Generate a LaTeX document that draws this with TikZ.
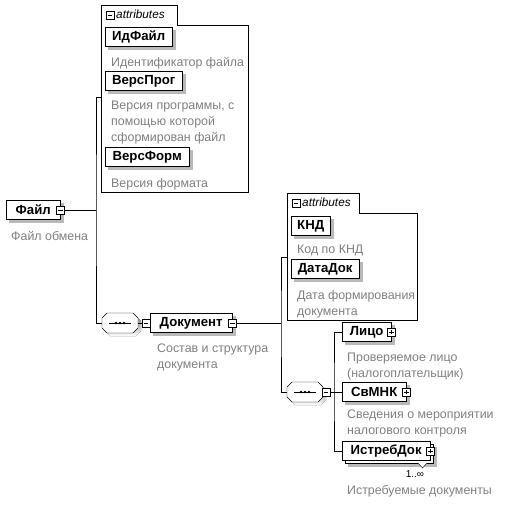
\documentclass[tikz,border=0pt]{standalone}
\usepackage{fontspec}
\setmainfont{Liberation Sans}
\usetikzlibrary{shadows}
\definecolor{shade}{RGB}{185,185,185}
\newcommand{\seqbox}[1]{%
    \begin{scope}[shift={(#1.center)}]
        \fill[shade] (-15,-2) -- (-10,-7) -- (16,-7) -- (21,-2) -- (21,8) -- (16,13) -- (-10,13) -- (-15,8) -- cycle;
        \draw[fill=white] (-18,-5) -- (-13,-10) -- (13,-10) -- (18,-5) -- (18,5) -- (13,10) -- (-13,10) -- (-18,5) -- cycle;
        \draw (-11,0) -- (11,0);
        \fill (-4,0) circle (1.4pt) (0,0) circle (1.4pt) (4,0) circle (1.4pt);
    \end{scope}}
\begin{document}
\begin{tikzpicture}[x=1pt, y=-1pt,
    elem/.style={draw, fill=white, font=\bfseries\fontsize{13.2}{15}\selectfont, minimum height=19pt, inner sep=0pt, anchor=west, copy shadow={shadow xshift=3pt, shadow yshift=-3pt, fill=shade, draw=shade}},
    stack/.style={elem, copy shadow={shadow xshift=6pt, shadow yshift=-6pt, fill=shade, draw=shade}, copy shadow={shadow xshift=3pt, shadow yshift=-3pt, fill=white, draw=black}},
    desc/.style={text=black!50, font=\fontsize{12.4}{16}\selectfont, align=left, anchor=north west, inner sep=0pt},
    tab/.style={font=\itshape\fontsize{11.8}{13}\selectfont, anchor=west, inner sep=0pt},
    minus/.style={draw, fill=white, minimum size=8pt, inner sep=0pt, path picture={\draw ([xshift=1.8pt]path picture bounding box.west) -- ([xshift=-1.8pt]path picture bounding box.east);}},
    plus/.style={draw, fill=white, minimum size=8pt, inner sep=0pt, path picture={\draw ([xshift=1.8pt]path picture bounding box.west) -- ([xshift=-1.8pt]path picture bounding box.east); \draw ([yshift=1.8pt]path picture bounding box.south) -- ([yshift=-1.8pt]path picture bounding box.north);}},
    seq/.style={minimum width=36pt, minimum height=20pt, inner sep=0pt}]
    \path[fill=white, use as bounding box] (0,0) rectangle (515,507);

    \draw[fill=white] (101,5) -- (177,5) -- (177,25) -- (248,25) -- (248,192) -- (101,192) -- cycle;
    \node[minus] (attr1m) at (110,15) {};
    \node[tab] (attr1t) at (116,14) {attributes};
    \node[elem, minimum width=67pt] (idfajl) at (105,37) {ИдФайл};
    \node[desc] at (111,57) {Идентификатор файла};
    \node[elem, minimum width=77pt] (versprog) at (105,81) {ВерсПрог};
    \node[desc] at (111,101) {Версия программы, с\\помощью которой\\сформирован файл};
    \node[elem, minimum width=84pt] (versform) at (105,157) {ВерсФорм};
    \node[desc] at (111,178) {Версия формата};

    \node[elem, minimum width=54pt] (fajl) at (6,210) {Файл};
    \node[minus] (fajlm) at (fajl.east) {};
    \node[desc] at (11,231) {Файл обмена};

    \node[seq] (seq1) at (120,323) {};
    \seqbox{seq1}
    \node[minus] (seq1m) at (146,323) {};
    \node[elem, minimum width=82pt] (dok) at (150,323) {Документ};
    \node[minus] (dokm) at (dok.east) {};
    \node[desc] at (157,344) {Состав и структура\\документа};

    \draw[fill=white] (287,193) -- (359,193) -- (359,213) -- (417,213) -- (417,320) -- (287,320) -- cycle;
    \node[minus] (attr2m) at (296,203) {};
    \node[tab] (attr2t) at (302,202) {attributes};
    \node[elem, minimum width=39pt] (knd) at (291,226) {КНД};
    \node[desc] at (297,245) {Код по КНД};
    \node[elem, minimum width=68pt] (datadok) at (291,269) {ДатаДок};
    \node[desc] at (297,290) {Дата формирования\\документа};

    \node[seq] (seq2) at (305,392) {};
    \seqbox{seq2}
    \node[minus] (seq2m) at (326,392) {};
    \node[elem, minimum width=49pt] (lico) at (342,332) {Лицо};
    \node[plus] (licop) at (lico.east) {};
    \node[desc] at (347,353) {Проверяемое лицо\\(налогоплательщик)};
    \node[elem, minimum width=64pt] (svmnk) at (342,392) {СвМНК};
    \node[plus] (svmnkp) at (svmnk.east) {};
    \node[desc] at (347,410) {Сведения о мероприятии\\налогового контроля};
    \node[stack, minimum width=88pt] (istr) at (342,451) {ИстребДок};
    \node[plus] (istrp) at (istr.east) {};
    \draw[fill=white] (418,463) -- (422.5,468) -- (427,463);
    \node[font=\fontsize{10}{11}\selectfont, inner sep=0pt] (istrn) at (415,474) {1..∞};
    \node[desc] at (347,485) {Истребуемые документы};

    \coordinate (bus1) at (96,210);
    \coordinate (attr1in) at (101,97);
    \draw (fajlm.east) -- (bus1);
    \draw (attr1in) -| (bus1) |- (seq1.west);
    \draw (seq1.east) -- (seq1m.west);
    \draw (seq1m.east) -- (dok.west);

    \coordinate (bus2) at (281,323);
    \coordinate (attr2in) at (287,257);
    \draw (dokm.east) -- (bus2);
    \draw (attr2in) -| (bus2) |- (seq2.west);
    \draw (seq2.east) -- (seq2m.west);

    \coordinate (bus3) at (334,392);
    \draw (seq2m.east) -- (bus3);
    \draw (lico.west) -| (bus3) |- (istr.west);
    \draw (bus3) -- (svmnk.west);
\end{tikzpicture}
\end{document}
